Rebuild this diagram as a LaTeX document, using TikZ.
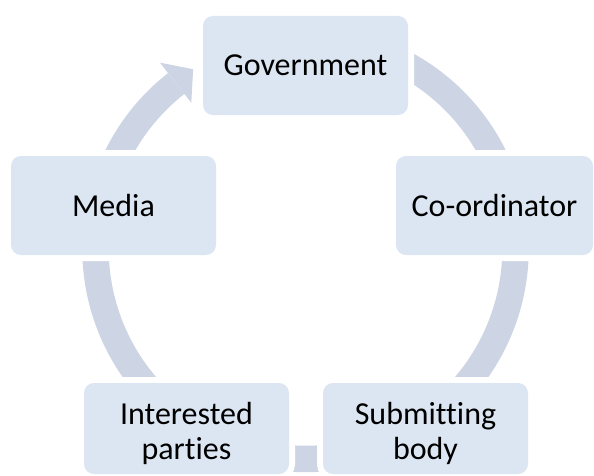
\documentclass[tikz,border=0pt]{standalone}
\usepackage{fontspec}
\setmainfont{Carlito}[Ligatures={NoCommon,NoRequired,NoContextual}]
\usetikzlibrary{calc}
\definecolor{boxfill}{HTML}{DCE6F2}
\definecolor{ringcol}{HTML}{CDD5E5}
\begin{document}
\begin{tikzpicture}[x=1pt,y=1pt,
  box/.style={rectangle, rounded corners=10pt, fill=boxfill, minimum width=205pt,
    minimum height=99pt, inner sep=0pt, preaction={draw=white, line width=12pt}},
  lbl/.style={font=\fontsize{32}{35}\selectfont, align=center, inner sep=0pt, text=black},
  ring/.style={draw=ringcol, line width=26.5pt},
  ringhead/.style={fill=ringcol}]
\useasboundingbox (0,0) rectangle (594,475);
\clip (0,0) rectangle (594,475);
\coordinate (C) at (305.5,226);
% cycle arcs (Government -> Co-ordinator -> Submitting body -> Interested parties -> Media -> Government)
\draw[ring] ($(C)+(90:210)$) arc[start angle=90, end angle=12.7, radius=210];
\draw[ring] ($(C)+(12.7:210)$) arc[start angle=12.7, end angle=-56.2, radius=210];
\draw[ring] ($(C)+(-56.2:210)$) arc[start angle=-56.2, end angle=-123.5, radius=210];
\draw[ring] ($(C)+(236.5:210)$) arc[start angle=236.5, end angle=167.2, radius=210];
\draw[ring] ($(C)+(167.2:210)$) arc[start angle=167.2, end angle=128, radius=210];
\fill[ringhead] ($(C)+(128:236.5)$) -- ($(C)+(122:212)$) -- ($(C)+(128:185.5)$) -- cycle;
% boxes
\node[box, lbl] (gov) at (305.5,409.5) {Government};
\node[box, lbl] (media) at (113.5,269.5) {Media};
\node[box, lbl, minimum width=197pt] (coord) at (494.5,269.5) {Co-ordinator};
\node[box, minimum height=91pt] (intbox) at (186.5,46.5) {};
\node[lbl] (int) at (186.5,42) {Interested\\parties};
\node[box, minimum height=91pt] (subbox) at (425.5,46.5) {};
\node[lbl] (sub) at (425.5,42) {Submitting\\body};
\end{tikzpicture}
\end{document}
